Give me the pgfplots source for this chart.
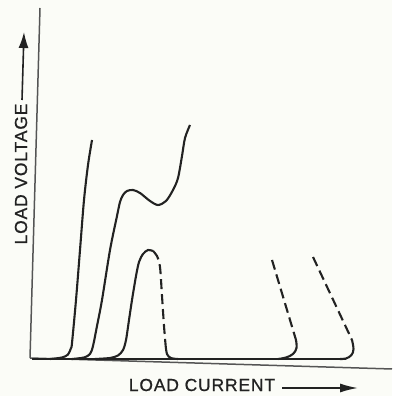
\documentclass[border=0pt]{standalone}
\usepackage{pgfplots}
\pgfplotsset{compat=1.18}
\usetikzlibrary{arrows.meta}
\usepackage{fontspec}
\setmainfont{Liberation Sans}
\newfontfamily\lbl[FakeBold=0.8,LetterSpace=5]{Liberation Sans}
\definecolor{bg}{HTML}{FBFCF7}
\definecolor{ink}{HTML}{222222}
\definecolor{axl}{HTML}{555555}
\begin{document}
\begin{tikzpicture}
\fill[bg] (0,0) rectangle (392bp,396bp);
\begin{axis}[
  hide axis, scale only axis,
  width=392bp, height=396bp,
  xmin=0, xmax=392, ymin=0, ymax=396,
  clip=false,
]
% axes
\addplot[axl, line width=1.5bp] coordinates {(40,388) (30,38)};
\addplot[axl, line width=1.5bp] coordinates {(30,38) (392,27)};
% baseline of curves
\addplot[ink, line width=2.1bp] coordinates {(32,37) (346,37)};
% curve 1
\addplot[ink, line width=2.1bp, smooth, tension=0.5] coordinates {
 (50,37) (62,38.5) (68,41.5) (71,48) (72,53) (76,96) (80,146) (84,196) (88,231) (92,256)};
% curve 2
\addplot[ink, line width=2.1bp, smooth, tension=0.5] coordinates {
 (72,37) (84,38.5) (90,42) (93,50) (97,70) (102,96) (110,146) (117,180) (120,194)
 (123,201) (127,205) (133,206) (140,203) (150,195) (158,191) (166,195) (173,206)
 (178,218) (182,240) (185,258) (190,271)};
% curve 3 solid part
\addplot[ink, line width=2.1bp, smooth, tension=0.5] coordinates {
 (95,37) (110,38) (118,40.5) (123,46) (126,56) (129,76) (132,96) (136,120) (139,134)
 (143,142) (148,146) (153,145)};
% curve 3 dashed part
\addplot[ink, line width=2.1bp, smooth, tension=0.5, dash pattern=on 10bp off 5bp] coordinates {
 (153,145) (157,140) (160,129) (162,100) (164,70) (165.5,52)};
\addplot[ink, line width=2.1bp, smooth, tension=0.6] coordinates {
 (165.5,52) (167,42) (171,38) (178,37)};
% dashed line 4
\addplot[ink, line width=2.1bp, dash pattern=on 10bp off 5bp] coordinates {(272,136) (296,56)};
\addplot[ink, line width=2.1bp, smooth, tension=0.6] coordinates {
 (296,56) (296.5,48) (293,42) (286,38.5) (278,37)};
% dashed line 5
\addplot[ink, line width=2.1bp, dash pattern=on 10bp off 5bp] coordinates {(313,139) (352,56)};
\addplot[ink, line width=2.1bp, smooth, tension=0.6] coordinates {
 (352,56) (353.5,47) (351.5,41) (346,37.5) (340,37)};
% labels
\draw[ink, line width=1.6bp, -{Latex[length=16bp,width=10bp]}] (axis cs:22,296) -- (axis cs:24,364);
\draw[ink, line width=1.6bp, -{Latex[length=18bp,width=9bp]}] (axis cs:282,8) -- (axis cs:358,8);
\node[ink, font=\lbl\fontsize{17.5}{20}\selectfont, rotate=90] at (axis cs:21,222) {LOAD VOLTAGE};
\node[ink, font=\lbl\fontsize{17.5}{20}\selectfont] at (axis cs:202,11) {LOAD CURRENT};
\end{axis}
\end{tikzpicture}
\end{document}
